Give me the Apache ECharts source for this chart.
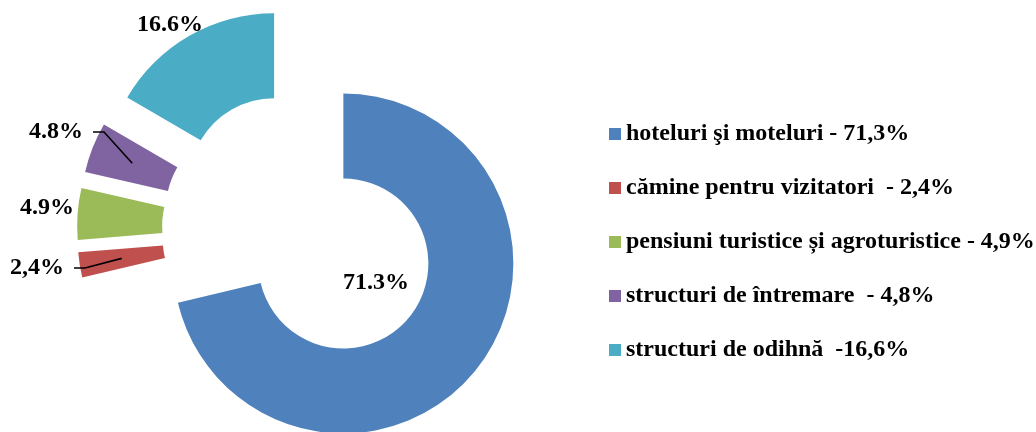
<!DOCTYPE html>
<html>
<head>
<meta charset="utf-8">
<title>Structuri de primire turistică</title>
<script src="https://cdn.jsdelivr.net/npm/echarts@6/dist/echarts.min.js"></script>
<style>
    html, body { margin: 0; padding: 0; background: #fff; }
    #main { width: 1036px; height: 432px; }
</style>
</head>
<body>
<div id="main"></div>
<script>
// legend text, as written in the source chart
var categories = [
    'hoteluri şi moteluri - 71,3%',
    'cămine pentru vizitatori  - 2,4%',
    'pensiuni turistice și agroturistice - 4,9%',
    'structuri de întremare  - 4,8%',
    'structuri de odihnă  -16,6%'
];
// shares, %
var values = [71.3, 2.4, 4.9, 4.8, 16.6];
// texts shown beside the slices (mixed separators as in the original)
var sliceLabels = ['71.3%', '2,4%', '4.9%', '4.8%', '16.6%'];
var colors = ['#4F81BD', '#C0504D', '#9BBB59', '#8064A2', '#4BACC6'];

// layout
var cx = 301, cy = 230, rIn = 85, rOut = 170, explode = 54;
var labelPos = [[376, 283], [37, 268], [47, 208], [56, 132], [170, 25]];
var withLine = [false, true, false, true, false];
var font = { fontFamily: 'Liberation Serif', fontWeight: 'bold', fontSize: 24, color: '#000' };
var clear = 'rgba(0,0,0,0)';

var total = values.reduce(function (a, b) { return a + b; }, 0);
// unit vector of a slice's middle angle (clockwise from 12 o'clock)
function midDir(i) {
    var before = 0;
    for (var k = 0; k < i; k++) before += values[k];
    var a = (before + values[i] / 2) / total * 2 * Math.PI;
    return [Math.sin(a), -Math.cos(a)];
}

// exploded doughnut: every slice is its own pie, pushed out along its middle angle;
// a second transparent pie on top carries the slice's label and leader line
var series = [];
values.forEach(function (v, i) {
    var d = midDir(i);
    var scx = cx + d[0] * explode, scy = cy + d[1] * explode;
    var base = {
        type: 'pie',
        center: [scx, scy],
        radius: [rIn, rOut],
        startAngle: 90,
        clockwise: true,
        silent: true,
        avoidLabelOverlap: false,
        emphasis: { disabled: true }
    };
    series.push(Object.assign({}, base, {
        z: 2,
        label: { show: false },
        labelLine: { show: false },
        data: values.map(function (w, j) {
            return { name: categories[j], value: w, itemStyle: j === i ? {} : { color: clear } };
        })
    }));
    series.push(Object.assign({}, base, {
        z: 3,
        label: Object.assign({
            position: 'outside',
            formatter: function (p) { return sliceLabels[p.dataIndex]; }
        }, font),
        labelLine: { lineStyle: { color: '#000', width: 1.6 } },
        labelLayout: function (p) {
            var pos = labelPos[i];
            var out = { x: pos[0], y: pos[1], align: 'center', verticalAlign: 'middle' };
            if (withLine[i]) {
                // from the middle of the slice to the label
                var rm = (rIn + rOut) / 2;
                var ex = pos[0] + p.labelRect.width / 2 + 10;
                out.labelLinePoints = [[scx + d[0] * rm, scy + d[1] * rm], [ex + 11, pos[1]], [ex, pos[1]]];
            }
            return out;
        },
        data: values.map(function (w, j) {
            return {
                name: categories[j],
                value: w,
                itemStyle: { color: clear },
                label: { show: j === i },
                labelLine: { show: j === i && withLine[i] }
            };
        })
    }));
});

var myChart = echarts.init(document.getElementById('main'));
myChart.setOption({
    animation: false,
    color: colors,
    legend: {
        orient: 'vertical',
        left: 604,
        top: 117,
        itemWidth: 12,
        itemHeight: 12,
        itemGap: 30,
        icon: 'rect',
        selectedMode: false,
        textStyle: Object.assign({ lineHeight: 24 }, font),
        data: categories.map(function (name, i) {
            return { name: name, itemStyle: { color: colors[i], opacity: 1 } };
        })
    },
    series: series
});
</script>
</body>
</html>
